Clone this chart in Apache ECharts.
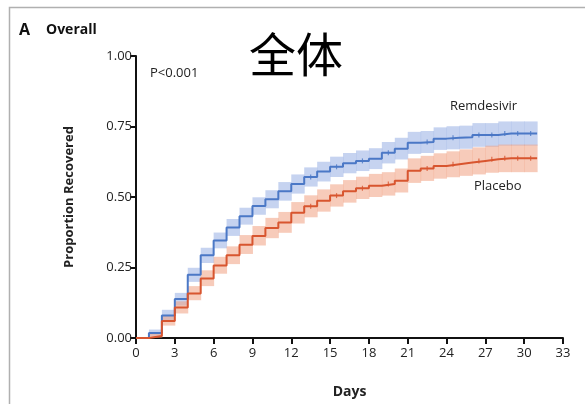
<!DOCTYPE html>
<html>
<head>
<meta charset="utf-8">
<script src="https://cdn.jsdelivr.net/npm/echarts@6/dist/echarts.min.js"></script>
<style>
  html, body { margin: 0; padding: 0; background: #fff; }
  #chart { width: 585px; height: 404px; }
</style>
</head>
<body>
<div id="chart"></div>
<script>
// days on which the curves step
const days = [0, 1, 2, 3, 4, 5, 6, 7, 8, 9, 10, 11, 12, 13, 14, 15, 16, 17, 18, 19, 20, 21, 22, 23, 24, 25, 26, 27, 28, 29, 30, 31];

// Remdesivir
const remValue = [0, 0.018, 0.08, 0.138, 0.224, 0.293, 0.346, 0.392, 0.432, 0.468, 0.492, 0.52, 0.546, 0.571, 0.59, 0.607, 0.62, 0.628, 0.636, 0.657, 0.671, 0.692, 0.695, 0.707, 0.71, 0.712, 0.72, 0.72, 0.725, 0.725, 0.725, 0.725];
const remLower = [0, 0.008, 0.062, 0.115, 0.199, 0.266, 0.318, 0.362, 0.402, 0.437, 0.46, 0.487, 0.512, 0.537, 0.555, 0.571, 0.584, 0.592, 0.599, 0.619, 0.633, 0.653, 0.656, 0.667, 0.669, 0.671, 0.678, 0.678, 0.682, 0.682, 0.682, 0.682];
const remUpper = [0, 0.03, 0.1, 0.16, 0.249, 0.32, 0.374, 0.422, 0.462, 0.499, 0.524, 0.553, 0.58, 0.605, 0.625, 0.643, 0.656, 0.665, 0.673, 0.695, 0.71, 0.731, 0.734, 0.747, 0.751, 0.753, 0.762, 0.762, 0.768, 0.768, 0.768, 0.768];

// Placebo
const plaValue = [0, 0.007, 0.06, 0.108, 0.158, 0.211, 0.257, 0.293, 0.331, 0.362, 0.39, 0.41, 0.444, 0.467, 0.487, 0.505, 0.52, 0.531, 0.54, 0.546, 0.558, 0.593, 0.601, 0.61, 0.616, 0.622, 0.628, 0.634, 0.637, 0.637, 0.637, 0.637];
const plaLower = [0, 0.001, 0.044, 0.087, 0.134, 0.184, 0.228, 0.262, 0.298, 0.328, 0.354, 0.373, 0.406, 0.428, 0.448, 0.466, 0.48, 0.493, 0.5, 0.505, 0.516, 0.55, 0.557, 0.565, 0.57, 0.575, 0.58, 0.586, 0.588, 0.588, 0.588, 0.588];
const plaUpper = [0, 0.015, 0.078, 0.13, 0.184, 0.24, 0.288, 0.325, 0.365, 0.397, 0.426, 0.447, 0.482, 0.506, 0.527, 0.545, 0.56, 0.572, 0.582, 0.588, 0.601, 0.637, 0.646, 0.655, 0.662, 0.669, 0.676, 0.682, 0.686, 0.686, 0.686, 0.686];

// censoring tick marks (days)
const censorDays = [13.5, 15.5, 17.5, 19.5, 22.5, 24.5, 26.5, 27.5, 28.5, 29.5, 30.5];

const BLUE = '#4b78c6';
const RED = '#d8552f';

function pairs(vals) { return days.map((d, i) => [d, vals[i]]); }
// [start day, end day, lower, upper] for each step of the band
function bandData(lo, up) {
  const out = [];
  for (let i = 0; i < days.length - 1; i++) out.push([days[i], days[i + 1], lo[i], up[i]]);
  return out;
}
function valueAt(vals, d) {
  let v = 0;
  days.forEach((dd, i) => { if (dd <= d) v = vals[i]; });
  return v;
}

function band(lo, up, color) {
  return {
    type: 'custom', silent: true, z: 1,
    data: bandData(lo, up),
    encode: { x: [0, 1], y: [2, 3] },
    renderItem: function (params, api) {
      const p1 = api.coord([api.value(0), api.value(3)]);
      const p2 = api.coord([api.value(1), api.value(2)]);
      return {
        type: 'rect',
        shape: { x: p1[0], y: p1[1], width: p2[0] - p1[0] + 0.5, height: p2[1] - p1[1] },
        style: { fill: color }
      };
    }
  };
}

const chart = echarts.init(document.getElementById('chart'));
chart.setOption({
  animation: false,
  textStyle: { fontFamily: 'Open Sans, DejaVu Sans, sans-serif' },
  grid: { left: 136, right: 22, top: 56, bottom: 64 },
  xAxis: {
    type: 'value', min: 0, max: 33, interval: 3,
    name: 'Days', nameLocation: 'middle', nameGap: 47,
    nameTextStyle: { fontSize: 14, fontWeight: 'bold', color: '#222' },
    axisLine: { lineStyle: { color: '#111', width: 2 } },
    axisTick: { length: 6, lineStyle: { color: '#111', width: 2 } },
    axisLabel: { fontSize: 13, color: '#222', margin: 9 },
    splitLine: { show: false }
  },
  yAxis: {
    type: 'value', min: 0, max: 1, interval: 0.25,
    name: 'Proportion Recovered', nameLocation: 'middle', nameGap: 60,
    nameTextStyle: { fontSize: 13, fontWeight: 'bold', color: '#222' },
    axisLine: { show: true, lineStyle: { color: '#111', width: 2 } },
    axisTick: { show: true, length: 6, lineStyle: { color: '#111', width: 2 } },
    axisLabel: { fontSize: 13, color: '#222', margin: 4,
      formatter: v => v.toFixed(2) },
    splitLine: { show: false }
  },
  series: [
    band(remLower, remUpper, 'rgba(160,182,230,0.6)'),
    band(plaLower, plaUpper, 'rgba(240,160,130,0.55)'),
    {
      name: 'Remdesivir', type: 'line', step: 'end', data: pairs(remValue),
      symbol: 'none', lineStyle: { color: BLUE, width: 2 }, z: 3
    },
    {
      name: 'Placebo', type: 'line', step: 'end', data: pairs(plaValue),
      symbol: 'none', lineStyle: { color: RED, width: 2 }, z: 3
    },
    {
      type: 'scatter', data: censorDays.map(d => [d, valueAt(remValue, d)]),
      symbol: 'rect', symbolSize: [1.2, 5], itemStyle: { color: BLUE }, z: 4, silent: true
    },
    {
      type: 'scatter', data: censorDays.map(d => [d, valueAt(plaValue, d)]),
      symbol: 'rect', symbolSize: [1.2, 5], itemStyle: { color: RED }, z: 4, silent: true
    }
  ],
  graphic: [
    { type: 'rect', shape: { x: 9.5, y: 7.5, width: 620, height: 420 },
      style: { fill: 'none', stroke: '#b0b0b0', lineWidth: 1.5 }, silent: true },
    { type: 'text', left: 19, top: 22,
      style: { text: 'A', fontSize: 16, fontWeight: 'bold', fill: '#111', fontFamily: 'Open Sans, sans-serif' } },
    { type: 'text', left: 46, top: 23,
      style: { text: 'Overall', fontSize: 14, fontWeight: 'bold', fill: '#111', fontFamily: 'Open Sans, sans-serif' } },
    { type: 'text', left: 249, top: 31,
      style: { text: '全体', fontSize: 47, fill: '#000', fontFamily: 'Noto Sans CJK SC' } },
    { type: 'text', left: 150, top: 67,
      style: { text: 'P<0.001', fontSize: 13, fill: '#222', fontFamily: 'Open Sans, sans-serif' } },
    { type: 'text', left: 450, top: 100,
      style: { text: 'Remdesivir', fontSize: 13, fill: '#222', fontFamily: 'Open Sans, sans-serif' } },
    { type: 'text', left: 474, top: 180,
      style: { text: 'Placebo', fontSize: 13, fill: '#222', fontFamily: 'Open Sans, sans-serif' } }
  ]
});
</script>
</body>
</html>
